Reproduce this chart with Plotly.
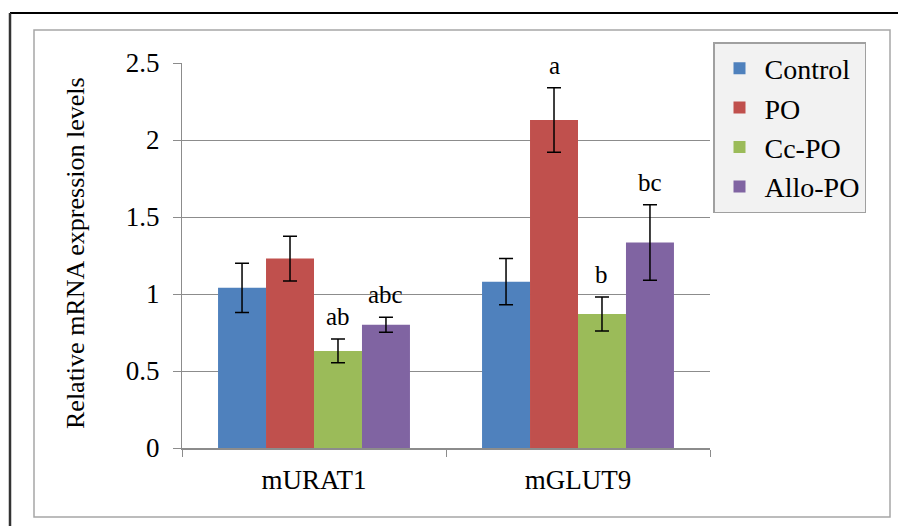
import plotly.graph_objects as go

categories = ["mURAT1", "mGLUT9"]
series_names = ["Control", "PO", "Cc-PO", "Allo-PO"]
control = [1.04, 1.08]
po = [1.23, 2.13]
ccpo = [0.63, 0.87]
allopo = [0.80, 1.335]
control_err = [0.16, 0.15]
po_err = [0.145, 0.21]
ccpo_err = [0.077, 0.11]
allopo_err = [0.049, 0.245]
control_sig = ["", ""]
po_sig = ["", "a"]
ccpo_sig = ["ab", "b"]
allopo_sig = ["abc", "bc"]
y_ticks = [0, 0.5, 1, 1.5, 2, 2.5]

values = [control, po, ccpo, allopo]
errors = [control_err, po_err, ccpo_err, allopo_err]
sigs = [control_sig, po_sig, ccpo_sig, allopo_sig]
colors = ["#4F81BD", "#C0504D", "#9BBB59", "#8064A2"]

W, H = 898, 526
ml, mr, mt, mb = 182, 188, 63, 78
pw = W - ml - mr
ph = H - mt - mb
bargap = 0.273
FONT = "Liberation Serif"
GRID = "#8c8c8c"

fig = go.Figure()
for name, v, e, c in zip(series_names, values, errors, colors):
    fig.add_trace(go.Bar(
        name=name, x=categories, y=v, marker=dict(color=c, line=dict(width=0)),
        error_y=dict(type="data", array=e, visible=True, color="black",
                     thickness=1.5, width=7),
    ))

bar_px = pw / len(categories) * (1 - bargap) / len(series_names)
annotations = []
for i, (v, e, s) in enumerate(zip(values, errors, sigs)):
    for j, cat in enumerate(categories):
        if s[j]:
            annotations.append(dict(
                x=cat, y=v[j] + e[j], xref="x", yref="y", text=s[j],
                showarrow=False, yanchor="bottom", yshift=7,
                xshift=(i - (len(series_names) - 1) / 2) * bar_px,
                font=dict(family=FONT, size=25, color="black")))

def px_x(p):
    return (p - ml) / pw

def px_y(p):
    return (H - mb - p) / ph

annotations.append(dict(
    x=px_x(75), y=px_y(253), xref="paper", yref="paper",
    text="Relative mRNA expression levels", textangle=-90, showarrow=False,
    xanchor="center", yanchor="middle",
    font=dict(family=FONT, size=26, color="black")))

shapes = [
    dict(type="line", xref="paper", yref="paper", x0=px_x(10), x1=px_x(898),
         y0=px_y(13), y1=px_y(13), line=dict(color="black", width=2)),
    dict(type="line", xref="paper", yref="paper", x0=px_x(10), x1=px_x(10),
         y0=px_y(13), y1=px_y(526), line=dict(color="#333333", width=2.5)),
    dict(type="rect", xref="paper", yref="paper", x0=px_x(34), x1=px_x(890),
         y0=px_y(30), y1=px_y(517), line=dict(color="#a6a6a6", width=1.5)),
]

fig.update_layout(
    width=W, height=H,
    margin=dict(l=ml, r=mr, t=mt, b=mb),
    paper_bgcolor="white", plot_bgcolor="white",
    barmode="group", bargap=bargap, bargroupgap=0,
    font=dict(family=FONT, size=25, color="black"),
    showlegend=True,
    legend=dict(x=px_x(713), y=px_y(42), xanchor="left", yanchor="top",
                bgcolor="#f2f2f2", bordercolor="#a0a0a0", borderwidth=1.5,
                font=dict(family=FONT, size=28, color="black"),
                tracegroupgap=0, itemwidth=40),
    annotations=annotations,
    shapes=shapes,
)
fig.update_yaxes(range=[0, 2.5], tickvals=y_ticks, showgrid=True, gridcolor=GRID,
                 gridwidth=1, showline=True, linecolor=GRID, linewidth=1,
                 ticks="outside", ticklen=8, tickcolor=GRID, zeroline=False,
                 ticklabelstandoff=8, tickfont=dict(family=FONT, size=27))
fig.update_xaxes(showline=True, linecolor=GRID, linewidth=1.5, ticks="outside",
                 tickson="boundaries", ticklen=7, tickcolor=GRID,
                 ticklabelstandoff=7, tickfont=dict(family=FONT, size=27))

fig.write_html("out.html", config={"displayModeBar": False},
               post_script="document.body.style.margin='0';")
